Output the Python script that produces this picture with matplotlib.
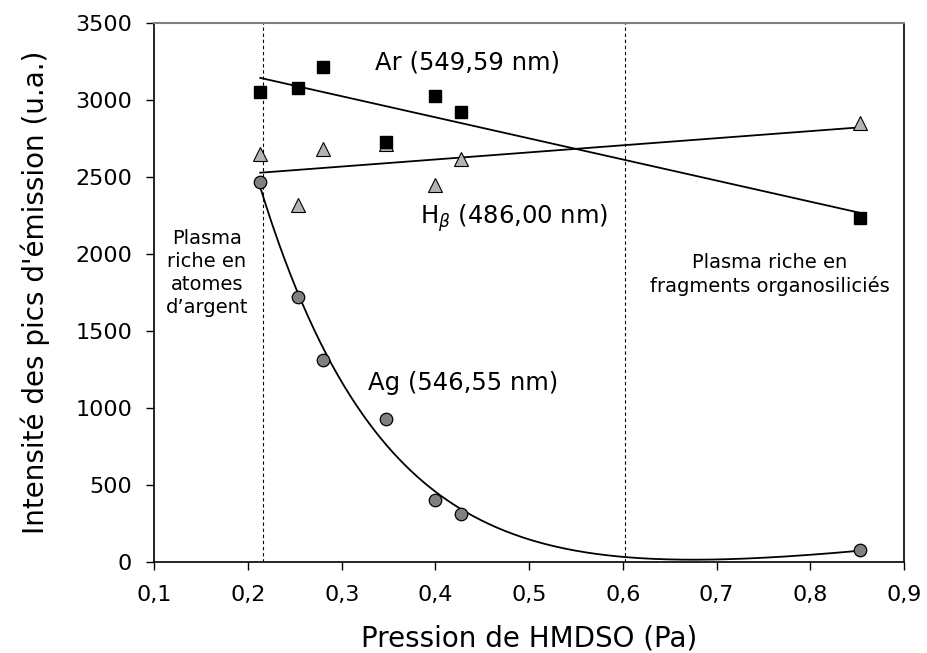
import numpy as np
import matplotlib
matplotlib.use("Agg")
import matplotlib.pyplot as plt

plt.rcParams['font.family'] = ['DejaVu Sans']

# Pression de HMDSO (Pa)
pression = [0.213, 0.253, 0.280, 0.347, 0.400, 0.427, 0.853]
# Intensités des raies d'émission (u.a.)
ar_549 = [3052, 3073, 3210, 2727, 3021, 2919, 2235]
hb_486 = [2650, 2315, 2683, 2715, 2445, 2618, 2846]
ag_546 = [2464, 1717, 1307, 926, 401, 310, 74]

x_ticks = [0.1, 0.2, 0.3, 0.4, 0.5, 0.6, 0.7, 0.8, 0.9]
x_ticklabels = ['0,1', '0,2', '0,3', '0,4', '0,5', '0,6', '0,7', '0,8', '0,9']
y_ticks = [0, 500, 1000, 1500, 2000, 2500, 3000, 3500]
limites_zones = [0.216, 0.602]


def ajuste_exp(x, y):
    """Ajustement y = a + b*exp(-k*x) + c*x (k par balayage, a, b, c par moindres carrés)."""
    best = None
    for k in np.linspace(2, 30, 561):
        A = np.column_stack([np.ones_like(x), np.exp(-k * x), x])
        coef, *_ = np.linalg.lstsq(A, y, rcond=None)
        res = np.sum((A @ coef - y) ** 2)
        if best is None or res < best[0]:
            best = (res, k, coef)
    _, k, (a, b, c) = best
    return lambda t: a + b * np.exp(-k * t) + c * t


fig = plt.figure(figsize=(9.27, 6.53), dpi=100)
ax = fig.add_axes([0.1665, 0.1398, 0.8087, 0.8254])

x = np.array(pression)
xf = np.linspace(x.min(), x.max(), 300)

# Droites de tendance (Ar, Hbeta)
for serie in (ar_549, hb_486):
    coef = np.polyfit(x, np.array(serie, dtype=float), 1)
    ax.plot(xf, np.polyval(coef, xf), color='black', lw=1.3, zorder=2)
# Décroissance de la raie de l'argent
f_ag = ajuste_exp(x, np.array(ag_546, dtype=float))
ax.plot(xf, f_ag(xf), color='black', lw=1.3, zorder=2)

# Séparation des régimes de plasma
for xl in limites_zones:
    ax.plot([xl, xl], [0, 3500], color='black', lw=0.8, ls=(0, (3, 2.5)), zorder=1)

ax.plot(pression, hb_486, ls='none', marker='^', ms=10.5, mfc='#b4b4b4',
        mec='black', mew=0.8, zorder=3)
ax.plot(pression, ar_549, ls='none', marker='s', ms=9, mfc='black',
        mec='black', zorder=4)
ax.plot(pression, ag_546, ls='none', marker='o', ms=9, mfc='#808080',
        mec='black', mew=0.9, zorder=4)

ax.set_xlim(0.1, 0.9)
ax.set_ylim(0, 3500)
ax.set_xticks(x_ticks)
ax.set_xticklabels(x_ticklabels)
ax.set_yticks(y_ticks)
ax.tick_params(axis='both', direction='out', length=6, width=1, labelsize=16)
ax.tick_params(axis='x', pad=11)
ax.tick_params(axis='y', pad=10)

for side in ('left', 'bottom', 'right'):
    ax.spines[side].set_color('black')
    ax.spines[side].set_linewidth(1.2)
ax.spines['top'].set_color('#808080')
ax.spines['top'].set_linewidth(1.5)

ax.set_xlabel('Pression de HMDSO (Pa)', fontsize=20, labelpad=14)
ax.set_ylabel("Intensité des pics d'émission (u.a.)", fontsize=20, labelpad=18)

ax.text(0.3355, 3243, 'Ar (549,59 nm)', fontsize=17.5, ha='left', va='center')
ax.text(0.384, 2234, r'H$_\beta$ (486,00 nm)', fontsize=17.5, ha='left', va='center')
ax.text(0.328, 1162, 'Ag (546,55 nm)', fontsize=17.5, ha='left', va='center')
ax.text(0.156, 1874, 'Plasma\nriche en\natomes\nd\u2019argent', fontsize=14,
        ha='center', va='center', linespacing=1.25)
ax.text(0.757, 1864, 'Plasma riche en\nfragments organosiliciés', fontsize=14,
        ha='center', va='center', linespacing=1.25)

fig.savefig('out.png', dpi=100)
